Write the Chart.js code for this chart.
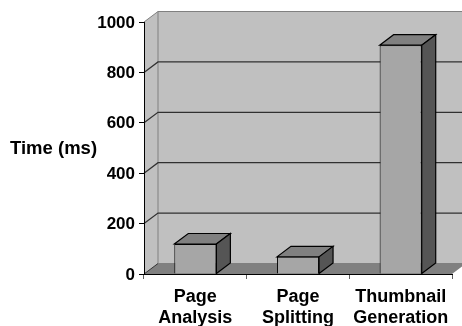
<!DOCTYPE html>
<html>
<head>
<meta charset="utf-8">
<style>
  html, body { margin: 0; padding: 0; background: #fff; }
  #wrap { width: 462px; height: 326px; }
</style>
<script src="https://cdn.jsdelivr.net/npm/chart.js@4"></script>
</head>
<body>
<div id="wrap"><canvas id="timeChart"></canvas></div>
<script>
const categories = [["Page", "Analysis"], ["Page", "Splitting"], ["Thumbnail", "Generation"]];
const timeMs = [119, 68, 908];
const yTicks = [0, 200, 400, 600, 800, 1000];
const yTitle = "Time (ms)";

const DX = 14, DY = -10.5; // 3d depth offset
const fontFamily = "'Liberation Sans', Arial, sans-serif";

function poly(ctx, pts, fill, stroke, lw) {
    ctx.beginPath();
    pts.forEach((p, i) => i ? ctx.lineTo(p[0], p[1]) : ctx.moveTo(p[0], p[1]));
    ctx.closePath();
    ctx.fillStyle = fill;
    ctx.fill();
    if (stroke) {
        ctx.strokeStyle = stroke;
        ctx.lineWidth = lw;
        ctx.stroke();
    }
}

const walls = {
    id: "walls",
    beforeDraw(chart) {
        const { ctx, chartArea: a, scales: { y } } = chart;
        const top = y.getPixelForValue(1000), bot = y.getPixelForValue(0);
        ctx.save();
        // side wall, back wall, floor
        poly(ctx, [[a.left, bot], [a.left + DX, bot + DY], [a.left + DX, top + DY], [a.left, top]], "#c0c0c0");
        poly(ctx, [[a.left + DX, bot + DY], [a.right + DX, bot + DY], [a.right + DX, top + DY], [a.left + DX, top + DY]], "#c0c0c0", "#808080", 1);
        poly(ctx, [[a.left, bot], [a.left + DX, bot + DY], [a.right + DX, bot + DY], [a.right, bot]], "#808080");
        // grid lines run along the side wall and the back wall
        yTicks.slice(1).forEach(v => {
            const py = y.getPixelForValue(v);
            ctx.beginPath();
            ctx.moveTo(a.left, py);
            ctx.lineTo(a.left + DX, py + DY);
            ctx.lineTo(a.right + DX, py + DY);
            ctx.strokeStyle = v === 1000 ? "#808080" : "#303030";
            ctx.lineWidth = v === 1000 ? 1 : 1.2;
            ctx.stroke();
        });
        ctx.beginPath();
        ctx.moveTo(a.left, bot);
        ctx.lineTo(a.left + DX, bot + DY);
        ctx.strokeStyle = "#303030";
        ctx.lineWidth = 1;
        ctx.stroke();
        ctx.restore();
    },
    afterDraw(chart) {
        const { ctx } = chart;
        ctx.save();
        ctx.font = "bold 18.5px " + fontFamily;
        ctx.fillStyle = "#000";
        ctx.textAlign = "left";
        ctx.textBaseline = "middle";
        ctx.fillText(yTitle, 10, 149);
        ctx.restore();
    }
};

const barSides = {
    id: "barSides",
    beforeDatasetsDraw(chart) {
        const { ctx } = chart;
        ctx.save();
        chart.getDatasetMeta(0).data.forEach(bar => {
            const l = bar.x - bar.width / 2, r = bar.x + bar.width / 2;
            poly(ctx, [[l, bar.y], [l + DX, bar.y + DY], [r + DX, bar.y + DY], [r, bar.y]], "#808080", "#000", 1.2);
            poly(ctx, [[r, bar.y], [r + DX, bar.y + DY], [r + DX, bar.base + DY], [r, bar.base]], "#555555", "#000", 1.2);
        });
        ctx.restore();
    }
};

new Chart(document.getElementById("timeChart"), {
    type: "bar",
    data: {
        labels: categories,
        datasets: [{
            data: timeMs,
            backgroundColor: "#a6a6a6",
            borderColor: "#000",
            borderWidth: 1,
            categoryPercentage: 0.41,
            barPercentage: 1
        }]
    },
    options: {
        responsive: true,
        maintainAspectRatio: false,
        animation: false,
        layout: { padding: { top: 22, right: 10 } },
        plugins: { legend: { display: false }, tooltip: { enabled: false } },
        scales: {
            x: {
                afterFit(s) { s.height = 52; },
                border: { color: "#000", width: 1 },
                grid: { drawOnChartArea: false, color: "#606060", tickLength: 5 },
                ticks: { color: "#000", font: { family: fontFamily, size: 18, weight: "bold" }, maxRotation: 0, autoSkip: false, padding: 7 }
            },
            y: {
                min: 0,
                max: 1000,
                afterFit(s) { s.width = 144; },
                afterBuildTicks(s) { s.ticks = yTicks.map(value => ({ value })); },
                border: { color: "#000", width: 1 },
                grid: { drawOnChartArea: false, color: "#000", tickLength: 5 },
                ticks: { color: "#000", font: { family: fontFamily, size: 17, weight: "bold" }, padding: 4, labelOffset: 1, callback: v => String(v) }
            }
        }
    },
    plugins: [walls, barSides]
});
</script>
</body>
</html>
